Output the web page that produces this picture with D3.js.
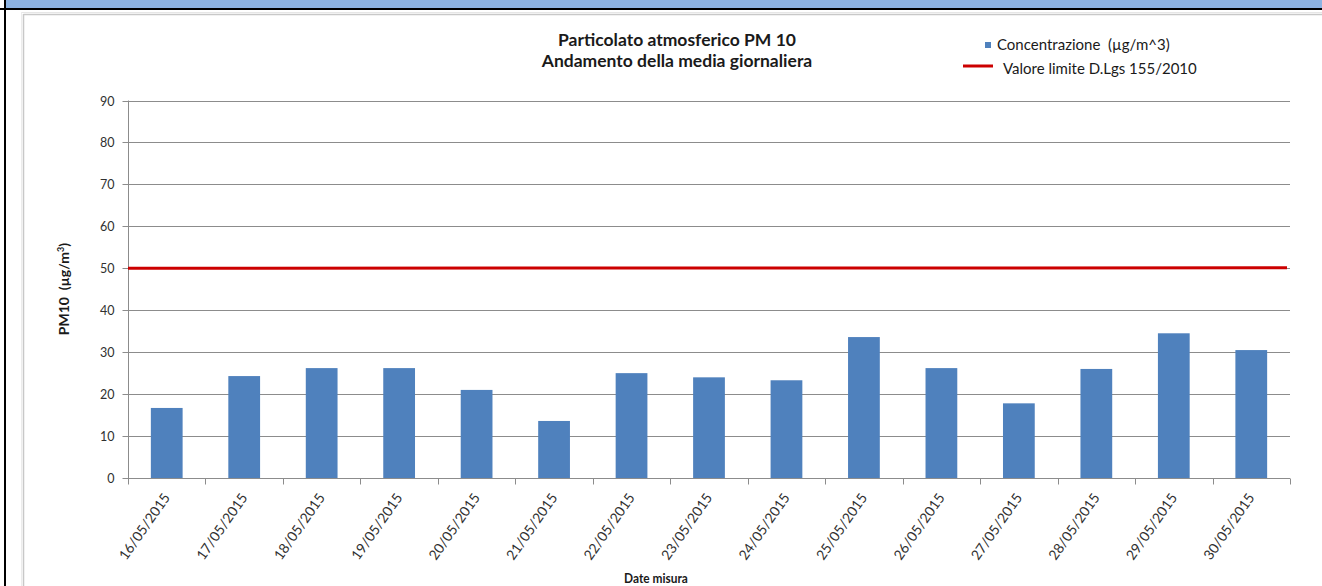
<!DOCTYPE html>
<html>
<head>
<meta charset="utf-8">
<script src="https://cdn.jsdelivr.net/npm/d3@7"></script>
<style>
  html, body { margin: 0; padding: 0; background: #ffffff; }
  svg { display: block; }
  text { white-space: pre; }
</style>
</head>
<body>
<svg id="chart" width="1322" height="586"></svg>
<script>
// ---- data ----
const dates = ["16/05/2015","17/05/2015","18/05/2015","19/05/2015","20/05/2015",
               "21/05/2015","22/05/2015","23/05/2015","24/05/2015","25/05/2015",
               "26/05/2015","27/05/2015","28/05/2015","29/05/2015","30/05/2015"];
const concentrations = [16.7, 24.3, 26.2, 26.2, 21.0, 13.6, 25.0, 24.0, 23.3, 33.6, 26.2, 17.8, 26.0, 34.5, 30.5];
const limitValue = 50;
const yTicks = [0, 10, 20, 30, 40, 50, 60, 70, 80, 90];
const titleLines = ["Particolato atmosferico PM 10", "Andamento della media giornaliera"];
const legendLabels = ["Concentrazione  (\u00b5g/m^3)", "Valore limite D.Lgs 155/2010"];
const xTitle = "Date misura";

// ---- drawing ----
const svg = d3.select("#chart");
const W = 1322, H = 586;
const FONT = "Lato, 'Open Sans', sans-serif";

// spreadsheet frame
svg.append("rect").attr("x", 6).attr("y", 0).attr("width", W - 6).attr("height", 8).attr("fill", "#8db3e2");
svg.append("rect").attr("x", 0).attr("y", 8).attr("width", W).attr("height", 2).attr("fill", "#000");
svg.append("rect").attr("x", 4).attr("y", 0).attr("width", 2).attr("height", H).attr("fill", "#000");
svg.append("line").attr("x1", 22).attr("x2", W).attr("y1", 12.5).attr("y2", 12.5).attr("stroke", "#e6e6e6").attr("stroke-width", 1);
svg.append("line").attr("x1", 23.5).attr("x2", W).attr("y1", 14.5).attr("y2", 14.5).attr("stroke", "#c8c8c8").attr("stroke-width", 1.5);
svg.append("line").attr("x1", 23.5).attr("x2", 23.5).attr("y1", 14).attr("y2", H).attr("stroke", "#c8c8c8").attr("stroke-width", 1.5);
svg.append("line").attr("x1", 21.5).attr("x2", 21.5).attr("y1", 12).attr("y2", H).attr("stroke", "#ececec").attr("stroke-width", 1);

// scales
const x = d3.scaleBand().domain(dates).range([128, 1290]).paddingInner(0.59).paddingOuter(0.295);
const y = d3.scaleLinear().domain([0, 90]).range([478, 100.5]);

const gridColor = "#8c8c8c";

// gridlines
svg.append("g").selectAll("line").data(yTicks.filter(d => d > 0)).join("line")
  .attr("x1", 128).attr("x2", 1290)
  .attr("y1", d => Math.round(y(d)) + 0.5).attr("y2", d => Math.round(y(d)) + 0.5)
  .attr("stroke", gridColor).attr("stroke-width", 1);

// y axis
const yAxis = svg.append("g").attr("transform", "translate(128.5,0)")
  .call(d3.axisLeft(y).tickValues(yTicks).tickSize(6).tickPadding(8).tickFormat(d3.format("d")));
yAxis.select(".domain").attr("stroke", gridColor).attr("d", `M0,${y(90)}V${y(0)}`);
yAxis.selectAll(".tick line").attr("stroke", gridColor);
yAxis.selectAll(".tick text").attr("fill", "#303030").style("font-family", FONT).style("font-size", "12.5px");
yAxis.selectAll(".tick").attr("transform", d => `translate(0,${Math.round(y(d)) + 0.5})`);

// bars
svg.append("g").selectAll("rect").data(concentrations).join("rect")
  .attr("x", (d, i) => x(dates[i]))
  .attr("width", x.bandwidth())
  .attr("y", d => y(d))
  .attr("height", d => y(0) - y(d))
  .attr("fill", "#4f81bd");

// x axis
const xAxisY = Math.round(y(0)) + 0.5;
svg.append("line").attr("x1", 128).attr("x2", 1290).attr("y1", xAxisY).attr("y2", xAxisY)
  .attr("stroke", gridColor).attr("stroke-width", 1);
const boundaries = d3.range(dates.length + 1).map(i => x.range()[0] + i * x.step());
svg.append("g").selectAll("line").data(boundaries).join("line")
  .attr("x1", d => Math.round(d) + 0.5).attr("x2", d => Math.round(d) + 0.5)
  .attr("y1", xAxisY).attr("y2", xAxisY + 6)
  .attr("stroke", gridColor);
svg.append("g").selectAll("text").data(dates).join("text")
  .attr("transform", d => `translate(${x(d) + x.bandwidth() / 2 + 4},${xAxisY + 19}) rotate(-55)`)
  .attr("text-anchor", "end")
  .attr("fill", "#303030")
  .style("font-family", FONT).style("font-size", "14px")
  .text(d => d);

// limit line
svg.append("line")
  .attr("x1", x.range()[0]).attr("x2", x.range()[1] - 3)
  .attr("y1", y(limitValue)).attr("y2", y(limitValue) - 0.5)
  .attr("stroke", "#cc0000").attr("stroke-width", 3);

// titles
svg.append("g").selectAll("text").data(titleLines).join("text")
  .attr("x", 677).attr("y", (d, i) => 46 + i * 21)
  .attr("text-anchor", "middle")
  .attr("fill", "#1a1a1a")
  .style("font-family", FONT).style("font-weight", "bold").style("font-size", "17.5px")
  .text(d => d);

// axis titles
svg.append("text")
  .attr("transform", "translate(656,583) scale(0.85,1)")
  .attr("text-anchor", "middle").attr("fill", "#1a1a1a")
  .style("font-family", FONT).style("font-weight", "bold").style("font-size", "14px")
  .text(xTitle);

const yt = svg.append("text")
  .attr("transform", "translate(69,289) rotate(-90)")
  .attr("text-anchor", "middle").attr("fill", "#1a1a1a")
  .style("font-family", FONT).style("font-weight", "bold").style("font-size", "14px");
yt.append("tspan").text("PM10  (\u00b5g/m");
yt.append("tspan").attr("baseline-shift", "super").style("font-size", "9px").text("3");
yt.append("tspan").text(")");

// legend
const lg = svg.append("g");
lg.append("rect").attr("x", 985).attr("y", 42).attr("width", 6).attr("height", 6).attr("fill", "#4f81bd");
lg.append("text").attr("x", 997).attr("y", 50).text(legendLabels[0]);
lg.append("line").attr("x1", 963).attr("x2", 993).attr("y1", 66).attr("y2", 66)
  .attr("stroke", "#cc0000").attr("stroke-width", 3);
lg.append("text").attr("x", 1003).attr("y", 74).text(legendLabels[1]);
lg.selectAll("text").attr("fill", "#1a1a1a").style("font-family", FONT).style("font-size", "15px");
</script>
</body>
</html>
